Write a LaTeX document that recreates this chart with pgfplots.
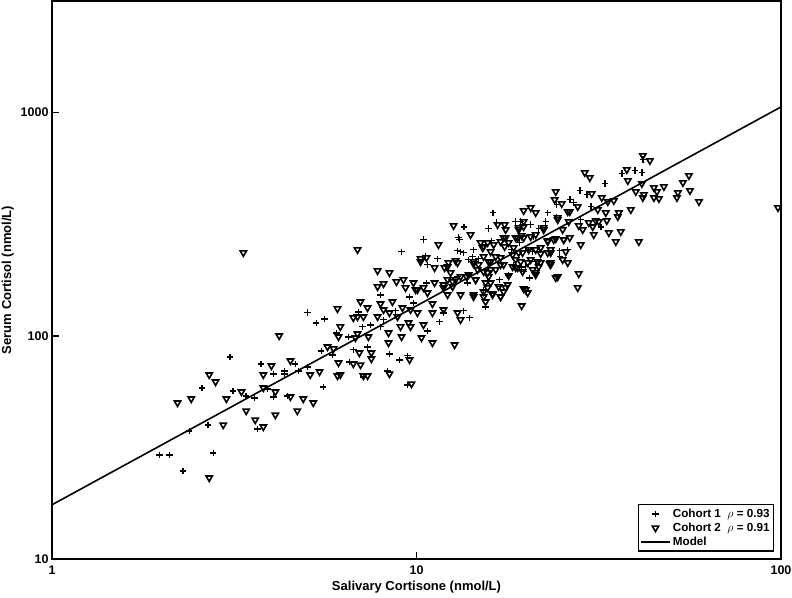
\documentclass[border=0pt]{standalone}
\usepackage{fontspec}
\setmainfont{Liberation Sans}
\usepackage{pgfplots}
\pgfplotsset{compat=1.18}
\pgfplotsset{
  markleg/.style={legend image code/.code={\draw[mark repeat=2,mark phase=2,##1]
    plot coordinates {(0pt,0pt) (14pt,0pt) (28pt,0pt)};}},
  lineleg/.style={legend image code/.code={\draw[##1] (0pt,0pt) -- (29pt,0pt);}},
}

% cohort 1 (+ marks)
\pgfplotstableread{
x y
5.02 127
5.31 114.4
5.59 119.2
3.08 80.5
3.75 74.9
4.05 67.5
4.34 69.7
4.34 67.5
4.65 74.9
4.74 69.7
5.02 72.6
5.48 85.7
2.58 58.5
3.14 56.7
3.41 53.8
3.59 52.7
3.90 57.9
4.05 53.3
4.42 53.8
5.55 59.1
2.68 39.9
2.38 37.5
3.66 38.3
1.97 29.3
2.10 29.3
2.77 29.9
2.29 24.8
16.2 356
13.5 308
10.45 269.5
9.10 238
13.13 269.5
12.96 240.5
13.46 235.6
11.42 221.5
14.34 243
10.72 208.2
10.59 228.4
10.65 172.8
7.97 152.7
6.93 128.1
7.11 109.8
7.48 112.0
6.03 103.1
6.51 99.0
7.34 89.3
6.71 86.6
8.43 83.0
8.98 78.1
9.45 81.4
8.33 69.7
6.55 76.5
5.88 82.2
11.57 115.6
9.81 140.6
11.86 126.8
13.99 120.5
13.46 129.5
10.72 105.3
9.57 149.6
8.76 129.5
8.12 118.0
7.97 109.8
13.81 172.8
12.96 183.9
15.28 160.8
14.80 221.5
14.25 226.1
41.78 615.5
36.58 532.7
39.72 549.5
41.52 538.2
32.85 480.5
28.05 447.0
29.32 428.9
26.33 407.3
27.00 394.9
24.25 386.8
22.91 356
22.62 324.5
24.25 338.2
20.57 314.6
21.64 301.9
16.59 321.2
15.77 301.9
18.71 324.5
30.07 378.9
28.22 331.3
32.03 308
16.07 266.7
20.97 278
19.19 261.3
20.31 243
20.83 238
18.24 243
24.71 240.5
24.71 226.1
25.99 243
19.43 201.8
19.68 193.7
20.44 182.0
17.01 165.9
15.47 134.9
18.47 208.2
21.23 214.7
7.15 65.5
9.45 60.3
13.05 275.1
19.31 324.5
19.93 203.9
16.91 178.3
17.90 187.7
13.21 238
13.90 219.2
}\cohortone

% cohort 2 (triangle marks)
\pgfplotstableread{
x y
4.20 100
5.70 89.3
2.70 66.9
2.81 62.2
4.00 73.4
3.80 66.9
4.51 77.3
5.11 66.9
5.42 69.0
2.21 50.1
2.41 52.2
3.01 52.2
3.31 56.1
3.80 58.5
4.10 56.1
4.51 53.3
4.89 52.2
5.21 50.1
3.41 46.1
4.10 44.2
4.71 46.1
3.61 42.0
3.80 39.1
2.95 39.9
2.70 23.1
12.64 311.4
14.07 283.8
11.49 255.9
6.89 243
10.26 214.7
10.26 221.5
10.65 223.8
11.21 201.8
11.94 201.8
12.24 212.5
12.80 216.9
14.34 210.3
14.71 197.7
7.82 195.7
8.43 191.7
8.81 174.7
9.21 178.3
9.81 172.8
9.94 160.8
7.82 165.9
8.12 171.1
10.72 155.9
11.21 172.8
12.17 178.3
12.80 178.3
13.72 183.9
14.53 178.3
14.34 149.6
10.06 160.8
10.45 164.2
9.33 164.2
11.86 164.2
12.56 165.9
7.02 142.0
7.34 133.5
7.97 139.1
8.59 142.0
9.15 133.5
8.12 130.8
8.43 126.8
8.87 121.7
9.63 130.8
10.06 126.8
11.06 139.1
11.06 126.8
11.86 130.8
12.96 126.8
13.21 118.0
6.07 132.2
6.71 120.5
6.89 121.7
7.15 121.7
6.18 109.8
7.82 121.7
9.51 114.4
9.63 109.8
10.45 112.0
9.04 109.8
6.89 102.1
6.80 98.0
6.11 99.0
7.38 99.0
8.38 103.1
8.38 93.0
9.10 99.0
10.32 98.0
11.06 93.0
12.72 91.1
5.92 87.5
6.97 83.9
7.52 83.9
6.11 75.7
6.71 74.9
7.02 74.1
7.52 78.9
9.57 78.1
6.07 66.2
6.18 66.9
7.15 66.2
7.34 66.2
41.78 641.5
43.68 609.2
28.95 538.2
29.88 511.2
37.76 555.2
38.00 495.5
41.52 480.5
39.97 442.4
42.05 428.9
41.78 415.8
44.80 461.0
47.72 465.8
45.66 442.4
44.80 415.8
46.24 411.5
51.81 415.8
24.10 442.4
23.94 407.3
25.03 390.8
26.33 359.8
27.69 378.9
30.26 433.3
32.23 415.8
33.48 399.0
34.78 403.1
31.43 367.3
33.06 356
35.67 341.7
35.90 356
38.73 367.3
19.68 363.5
20.57 375.0
21.23 356
24.40 331.3
26.16 324.5
27.87 311.4
28.58 298.8
29.69 321.2
30.45 308
31.04 327.9
31.63 324.5
30.64 283.8
33.70 289.7
36.35 292.7
35.22 264.0
40.74 264.0
33.27 327.9
16.69 314.6
17.45 314.6
17.56 298.8
19.07 298.8
19.68 324.5
22.33 298.8
25.18 298.8
26.33 275.1
28.22 255.9
25.35 269.5
23.79 269.5
22.91 264.0
18.95 275.1
19.43 280.9
17.56 275.1
17.01 264.0
15.67 261.3
15.18 248.1
15.97 238
16.49 226.1
15.77 214.7
17.45 250.6
18.47 248.1
19.55 235.6
21.23 243
21.91 233.2
22.91 235.6
23.34 243
25.18 219.2
25.99 212.5
23.34 212.5
21.50 214.7
21.64 203.9
20.18 212.5
18.71 219.2
18.35 203.9
18.95 201.8
17.01 208.2
16.49 197.7
15.28 193.7
15.77 183.9
17.90 185.8
20.83 197.7
21.23 191.7
24.10 182.0
27.87 189.7
23.20 210.3
15.47 172.8
15.67 164.2
17.56 164.2
17.34 157.5
19.68 162.5
20.18 155.9
27.69 164.2
17.01 149.6
16.17 154.3
15.28 149.6
19.43 136.3
15.47 142.0
53.81 485.4
55.90 521.8
56.26 447.0
52.14 437.8
59.56 399.0
98.1 375.0
3.35 235.6
8.43 67.5
9.69 60.9
24.40 338.2
25.99 359.8
22.33 305.0
19.07 305.0
19.68 308.2
14.99 261.3
15.28 250.6
16.28 255.9
17.34 275.1
17.90 261.3
18.71 275.1
19.68 275.1
20.57 278
21.23 283.8
22.91 266.7
24.10 272.3
25.35 269.5
25.67 238
23.34 235.6
21.91 248.1
20.31 243
19.07 235.6
18.35 230.8
17.01 223.8
15.97 214.7
15.28 226.1
14.34 214.7
14.80 208.2
12.96 212.5
12.17 203.9
12.40 191.7
11.86 169.3
12.56 174.7
13.21 183.9
13.90 187.7
14.53 178.3
15.67 191.7
15.97 172.8
16.80 165.9
17.78 169.3
18.71 201.8
19.31 214.7
20.57 219.2
21.91 212.5
23.34 208.2
19.55 193.7
21.23 187.7
17.34 208.2
15.97 197.7
12.17 152.7
13.21 152.7
14.34 152.7
15.28 157.5
16.17 152.7
17.01 149.6
19.93 160.8
24.40 183.9
}\cohorttwo

\begin{document}
\begin{tikzpicture}
\begin{axis}[
  scale only axis, width=729pt, height=558pt,
  xmode=log, ymode=log,
  xmin=1, xmax=100, ymin=10, ymax=3162,
  xtick={1,10,100}, xticklabels={1,10,100},
  ytick={10,100,1000}, yticklabels={10,100,1000},
  xminorticks=false, yminorticks=false,
  tick pos=left, tick align=inside, major tick length=7pt,
  major tick style={black, line width=1.5pt},
  axis line style={line width=1.5pt},
  ticklabel style={font=\bfseries\fontsize{12.5}{14}\selectfont},
  xticklabel style={yshift=-3pt},
  xlabel={Salivary Cortisone (nmol/L)},
  ylabel={Serum Cortisol (nmol/L)},
  label style={font=\bfseries\fontsize{13}{15}\selectfont},
  xlabel style={at={(axis description cs:0.5,-0.0573)}, anchor=base},
  ylabel style={at={(axis description cs:-0.0562,0.5)}, anchor=base},
  legend cell align=left,
  legend style={draw=black, line width=1.5pt, fill=white,
    at={(1,0)}, anchor=south east, xshift=-7pt, yshift=7pt,
    font=\bfseries\fontsize{11.7}{13}\selectfont,
    inner xsep=2pt, inner ysep=2.5pt, row sep=1pt,
    nodes={inner sep=1.6pt}},
]
\addplot[only marks, black, mark=+, mark size=3.2pt, line width=1.5pt, markleg]
  table[x=x,y=y] {\cohortone};
\addlegendentry{Cohort 1\ \ $\rho$ = 0.93}
\addplot[only marks, black, mark=triangle, mark size=3.6pt,
  mark options={rotate=180, line width=1.6pt}, markleg]
  table[x=x,y=y] {\cohorttwo};
\addlegendentry{Cohort 2\ \ $\rho$ = 0.91}
\addplot[black, line width=1.6pt, lineleg]
  coordinates {(1,17.5) (100,1060)};
\addlegendentry{Model}
\end{axis}
\pgfresetboundingbox
\path[use as bounding box] (-52pt,-38pt) rectangle (740pt,559pt);
\end{tikzpicture}
\end{document}
